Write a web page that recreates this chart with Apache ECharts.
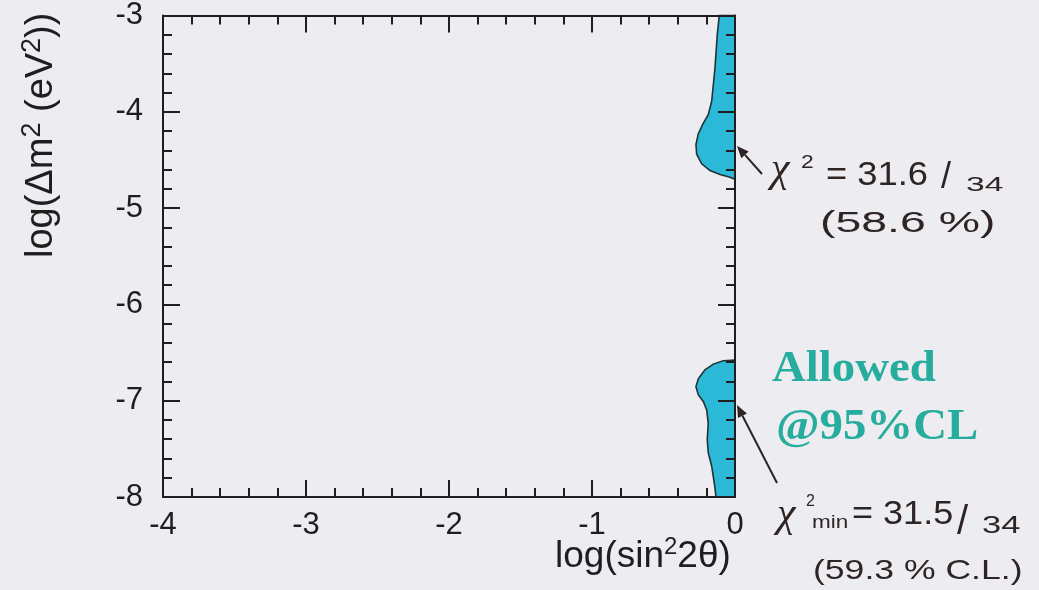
<!DOCTYPE html>
<html>
<head>
<meta charset="utf-8">
<script src="https://cdn.jsdelivr.net/npm/echarts@6/dist/echarts.min.js"></script>
<style>
html,body{margin:0;padding:0;background:#edecf0;}
#chart{width:1039px;height:590px;}
</style>
</head>
<body>
<div id="chart"></div>
<script>
// ---- data ----
var xTickLabels = ['-4', '-3', '-2', '-1', '0'];
var yTickLabels = ['-8', '-7', '-6', '-5', '-4', '-3'];
// upper allowed region boundary: log(sin^2 2θ), log(Δm^2)
var upperRegionX = [0, -0.11, -0.124, -0.14, -0.163, -0.187, -0.226, -0.257, -0.273, -0.268, -0.233, -0.175, -0.105, -0.035, 0];
var upperRegionY = [-3, -3, -3.2, -3.545, -3.89, -4.03, -4.13, -4.23, -4.34, -4.44, -4.54, -4.61, -4.65, -4.68, -4.70];
// lower allowed region boundary
var lowerRegionX = [0, -0.082, -0.152, -0.21, -0.256, -0.273, -0.256, -0.221, -0.198, -0.187, -0.194, -0.187, -0.163, -0.152, -0.140, -0.133, 0];
var lowerRegionY = [-6.578, -6.585, -6.62, -6.68, -6.77, -6.854, -6.94, -7.01, -7.095, -7.233, -7.405, -7.54, -7.68, -7.785, -7.905, -8.0, -8.0];

var FILL = '#2cb8d7';
var EDGE = '#1f3338';
var INK = '#1e1e1e';
var HAND = '#2e2424';
var TEAL = '#27ad9d';

function zip(xs, ys) { return xs.map(function (x, i) { return [x, ys[i]]; }); }

function regionSeries(xs, ys) {
  var pts = zip(xs, ys);
  return {
    type: 'custom',
    xAxisIndex: 0,
    yAxisIndex: 0,
    z: 2,
    silent: true,
    data: pts,
    renderItem: function (params, api) {
      if (params.dataIndex !== 0) return null;
      var poly = pts.map(function (p) { return api.coord(p); });
      return {
        type: 'polygon',
        shape: { points: poly },
        style: { fill: FILL, stroke: EDGE, lineWidth: 1.6 }
      };
    }
  };
}

function makeAxis(dim, pos, showLabels, labels, min, max) {
  return {
    type: 'value',
    position: pos,
    min: min,
    max: max,
    interval: 1,
    z: 10,
    axisLine: { show: true, onZero: false, lineStyle: { color: INK, width: 2 } },
    axisTick: { show: true, inside: true, length: 17, lineStyle: { color: INK, width: 2 } },
    minorTick: { show: true, splitNumber: 5, length: 9, lineStyle: { color: INK, width: 2 } },
    splitLine: { show: false },
    minorSplitLine: { show: false },
    axisLabel: {
      show: showLabels,
      fontFamily: 'Liberation Sans',
      fontSize: 31,
      color: INK,
      margin: dim === 'x' ? 13 : 20,
      formatter: function (v) {
        var i = Math.round(v - min);
        return labels[i] !== undefined ? labels[i] : String(v);
      }
    }
  };
}

function txt(x, y, text, size, opts) {
  opts = opts || {};
  return {
    type: 'text',
    x: x, y: y,
    scaleX: opts.sx || 1,
    rotation: opts.rot || 0,
    z: 20,
    silent: true,
    style: {
      x: 0, y: 0,
      text: text,
      fill: opts.color || HAND,
      fontSize: size,
      fontFamily: opts.family || 'Liberation Sans',
      fontWeight: opts.weight || 'normal',
      fontStyle: opts.style || 'normal',
      textAlign: opts.align || 'left',
      align: opts.align || 'left',
      textVerticalAlign: 'middle',
      verticalAlign: 'middle',
      rich: opts.rich
    }
  };
}

function arrow(x1, y1, x2, y2) {
  var dx = x2 - x1, dy = y2 - y1, L = Math.sqrt(dx * dx + dy * dy);
  var ux = dx / L, uy = dy / L, hl = 12, hw = 5;
  var bx = x2 - ux * hl, by = y2 - uy * hl;
  return [
    { type: 'line', z: 20, silent: true, shape: { x1: x1, y1: y1, x2: bx, y2: by }, style: { stroke: HAND, lineWidth: 2 } },
    { type: 'polygon', z: 20, silent: true, shape: { points: [[x2, y2], [bx - uy * hw, by + ux * hw], [bx + uy * hw, by - ux * hw]] }, style: { fill: HAND } }
  ];
}

var chart = echarts.init(document.getElementById('chart'), null, { renderer: 'canvas' });

var graphics = [].concat(
  // axis titles
  [txt(40, 258, '{n|log(Δm}{s|2}{n| (eV}{s|2}{n|))}', 38, {
    rot: Math.PI / 2, color: INK,
    rich: {
      n: { fontSize: 38, fontFamily: 'Liberation Sans', fill: INK, color: INK, lineHeight: 42, verticalAlign: 'bottom' },
      s: { fontSize: 27, fontFamily: 'Liberation Sans', fill: INK, color: INK, lineHeight: 42, verticalAlign: 'top' }
    }
  })],
  [txt(555, 555, '{n|log(sin}{s|2}{n|2θ)}', 37, {
    color: INK,
    rich: {
      n: { fontSize: 37, fontFamily: 'Liberation Sans', fill: INK, color: INK, lineHeight: 40, verticalAlign: 'bottom' },
      s: { fontSize: 24, fontFamily: 'Liberation Sans', fill: INK, color: INK, lineHeight: 40, verticalAlign: 'top' }
    }
  })],
  // annotation 1
  arrow(762, 174, 737, 146),
  [
    txt(771, 170, 'χ', 42, { family: 'Liberation Serif', style: 'italic' }),
    txt(801, 163, '2', 19, { sx: 1.2 }),
    txt(826, 176, '= 31.6', 33, { sx: 1.1 }),
    txt(941, 178, '/', 36),
    txt(966, 185, '34', 21, { sx: 1.6 }),
    txt(820, 224, '(58.6 %)', 29, { sx: 1.6 })
  ],
  // allowed label
  [
    txt(772, 369, 'Allowed', 45, { color: TEAL, family: 'Liberation Serif', weight: 'bold', sx: 1.04 }),
    txt(776, 427, '@95%CL', 45, { color: TEAL, family: 'Liberation Serif', weight: 'bold', sx: 1.04 })
  ],
  // annotation 2
  arrow(777, 483, 737, 405),
  [
    txt(777, 515, 'χ', 42, { family: 'Liberation Serif', style: 'italic' }),
    txt(806, 502, '2', 16),
    txt(812, 523, 'min', 18, { sx: 1.25 }),
    txt(852, 515, '= 31.5', 34, { sx: 1.06 }),
    txt(957, 523, '/', 40),
    txt(982, 527, '34', 23, { sx: 1.5 }),
    txt(813, 571, '(59.3 % C.L.)', 28, { sx: 1.27 })
  ]
);

chart.setOption({
  backgroundColor: '#edecf0',
  animation: false,
  grid: { left: 163, right: 304, top: 14, bottom: 93, containLabel: false },
  xAxis: [
    makeAxis('x', 'bottom', true, xTickLabels, -4, 0),
    makeAxis('x', 'top', false, xTickLabels, -4, 0)
  ],
  yAxis: [
    makeAxis('y', 'left', true, yTickLabels, -8, -3),
    makeAxis('y', 'right', false, yTickLabels, -8, -3)
  ],
  series: [
    regionSeries(upperRegionX, upperRegionY),
    regionSeries(lowerRegionX, lowerRegionY)
  ],
  graphic: { elements: graphics }
});
</script>
</body>
</html>
